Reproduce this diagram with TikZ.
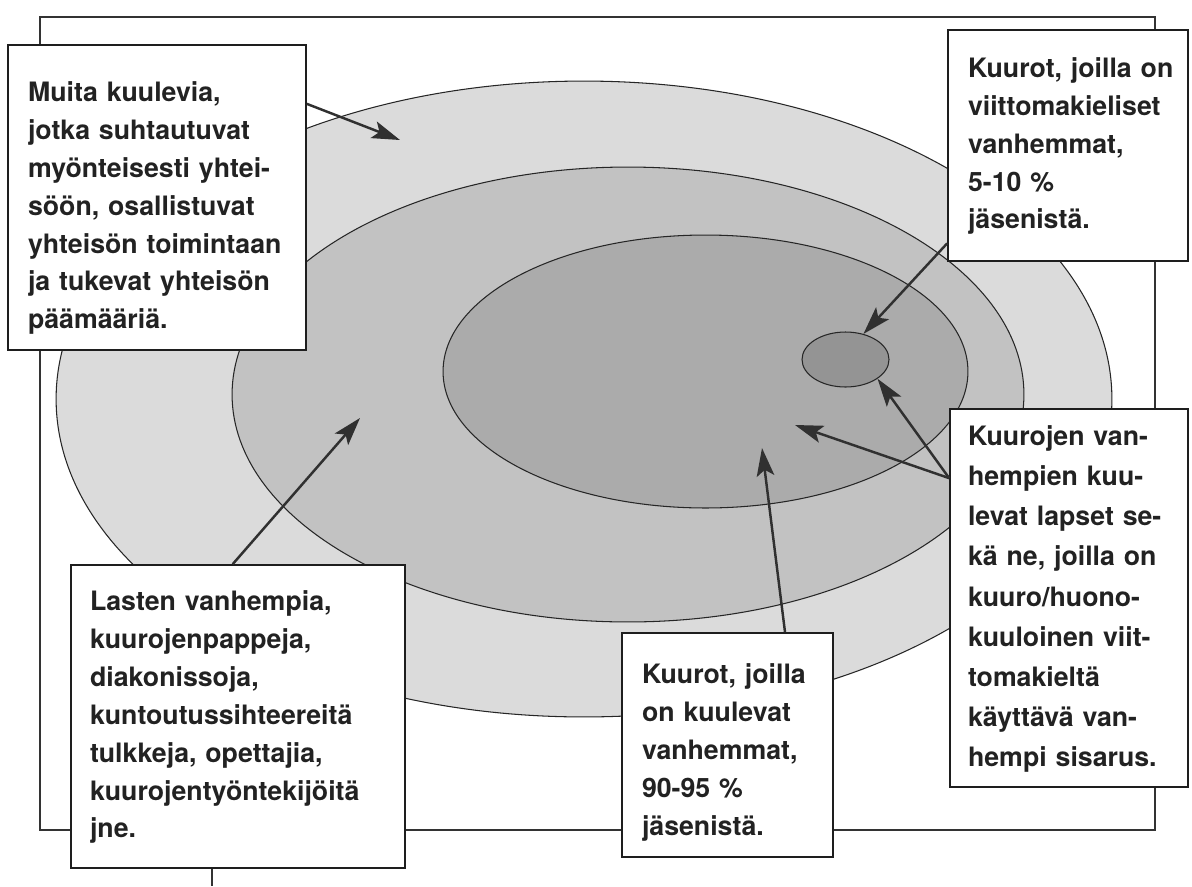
\documentclass[tikz,border=0pt]{standalone}
\usepackage{fontspec}
\setmainfont{TeX Gyre Heros}
\usetikzlibrary{shapes.geometric,arrows.meta}
\definecolor{ringOuter}{gray}{0.86}
\definecolor{ringMid}{gray}{0.76}
\definecolor{ringInner}{gray}{0.67}
\definecolor{ringSmall}{gray}{0.58}
\definecolor{boxline}{HTML}{1E1E1E}
\definecolor{arrowc}{HTML}{303030}
\definecolor{txt}{HTML}{222222}
\begin{document}
\begin{tikzpicture}[x=0.02cm,y=-0.02cm,
  box/.style={draw=boxline, line width=1pt, fill=white, inner ysep=0pt, align=left, anchor=center,
              font=\fontsize{15.2pt}{21.6pt}\selectfont\bfseries, text=txt},
  ring/.style={ellipse, draw=black!85, line width=0.6pt, inner sep=0pt},
  pointer/.style={draw=arrowc, line width=1.4pt, -{Stealth[length=16pt,width=10pt,inset=3.5pt]}},
  frameline/.style={draw=black!80, line width=0.7pt}
]
\useasboundingbox (0,0) rectangle (1192,886);

% background frame
\draw[frameline] (40,17) rectangle (1155,830);
\coordinate (stubA) at (212,868);
\coordinate (stubB) at (212,886);
\draw[frameline] (stubA) -- (stubB);

% rings
\node[ring, fill=ringOuter, minimum width=21.12cm, minimum height=12.72cm] (outer) at (584,399) {};
\node[ring, fill=ringMid, minimum width=15.84cm, minimum height=9.1cm] (middle) at (628,394.5) {};
\node[ring, fill=ringInner, minimum width=10.5cm, minimum height=5.46cm] (inner) at (705.5,371.5) {};
\node[ring, fill=ringSmall, minimum width=1.74cm, minimum height=1.1cm] (small) at (845.5,359.5) {};

% boxes
\node[box, inner xsep=0.4cm, minimum width=5.96cm, minimum height=6.1cm, text width=5.16cm] (b1) at (157,197.5)
 {\noindent\raisebox{-0.2cm}[\height][\depth]{\begin{tabular}{@{}l@{}}Muita kuulevia,\\ jotka suhtautuvat\\ myönteisesti yhtei-\\ söön, osallistuvat\\ yhteisön toimintaan\\ ja tukevat yhteisön\\ päämääriä.\end{tabular}}};
\node[box, inner xsep=0.4cm, minimum width=4.8cm, minimum height=4.62cm, text width=4.0cm] (b2) at (1068,145.5)
 {\noindent\begin{tabular}{@{}l@{}}Kuurot, joilla on\\ viittomakieliset\\ vanhemmat,\\ 5-10 \%\\ jäsenistä.\end{tabular}};
\node[box, inner xsep=0.36cm, minimum width=4.76cm, minimum height=7.56cm, text width=4.04cm,
      font=\fontsize{15.2pt}{22.8pt}\selectfont\bfseries] (b3) at (1069,598)
 {\noindent\begin{tabular}{@{}l@{}}Kuurojen van-\\ hempien kuu-\\ levat lapset se-\\ kä ne, joilla on\\ kuuro/huono-\\ kuuloinen viit-\\ tomakieltä\\ käyttävä van-\\ hempi sisarus.\end{tabular}};
\node[box, inner xsep=0.38cm, minimum width=6.68cm, minimum height=6.06cm, text width=5.92cm] (b4) at (238,716.5)
 {\noindent\begin{tabular}{@{}l@{}}Lasten vanhempia,\\ kuurojenpappeja,\\ diakonissoja,\\ kuntoutussihteereitä\\ tulkkeja, opettajia,\\ kuurojentyöntekijöitä\\ jne.\end{tabular}};
\node[box, inner xsep=0.4cm, minimum width=4.22cm, minimum height=4.48cm, text width=3.42cm] (b5) at (727.5,745)
 {\noindent\raisebox{-0.14cm}[\height][\depth]{\begin{tabular}{@{}l@{}}Kuurot, joilla\\ on kuulevat\\ vanhemmat,\\ 90-95 \%\\ jäsenistä.\end{tabular}}};

% arrow targets and shared start
\coordinate (t1) at (400,140);
\coordinate (t4) at (795,425);
\coordinate (t5) at (762,448);
\coordinate (t6) at (360,418);
\coordinate (s3) at (b3.135.5);

% arrows
\draw[pointer] (b1.32.7) -- (t1);
\draw[pointer] (b2.219.7) -- (small.55);
\draw[pointer] (s3) -- (small.-31);
\draw[pointer] (s3) -- (t4);
\draw[pointer] (b5.63.2) -- (t5);
\draw[pointer] (b4.92.3) -- (t6);
\end{tikzpicture}
\end{document}
